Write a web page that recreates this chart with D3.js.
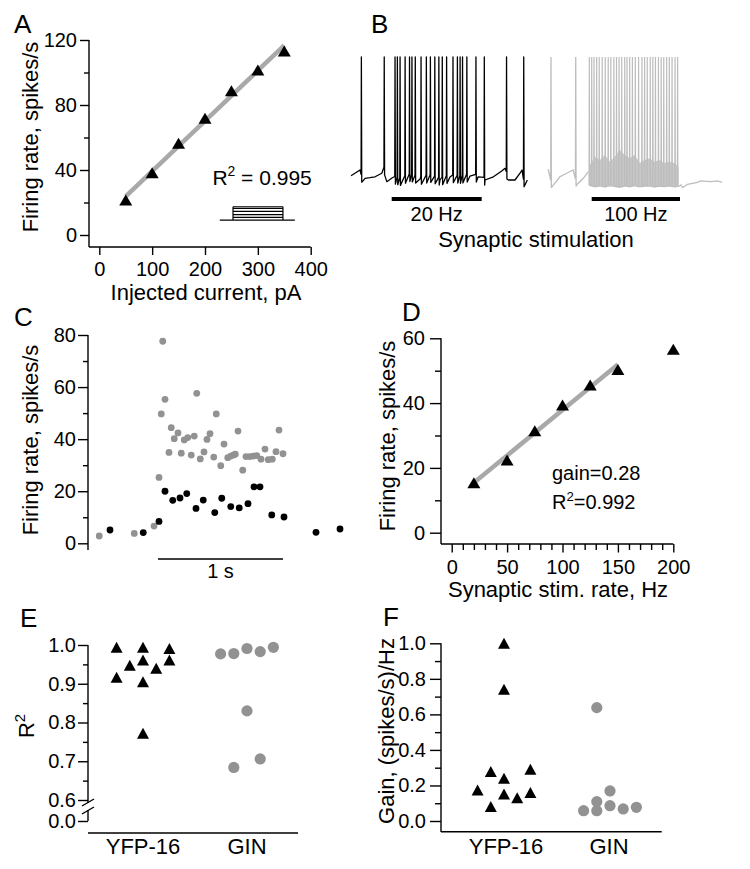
<!DOCTYPE html>
<html><head><meta charset="utf-8">
<script src="https://cdn.jsdelivr.net/npm/d3@7"></script>
<style>body{margin:0;background:#fff} svg{display:block} text{font-family:"Liberation Sans",Arial,Helvetica,sans-serif}</style>
</head><body><svg id="fig" width="750" height="869"></svg>
<script>
// ---------- DATA ----------
// Panel A: firing rate vs injected current
const aCurrent = [50, 100, 150, 200, 250, 300, 350];
const aRate = [21.5, 38.3, 56.4, 71.8, 88.8, 101.5, 113.2];
const aTicksX = [0, 100, 200, 300, 400];
const aTicksY = [0, 40, 80, 120];
const aMinorY = [20, 60, 100];
const aStepLevels = [9.2, 10.9, 12.6, 14.5, 16.4, 17.4]; // current-step icon (in spikes/s units of the plot)

// Panel B: membrane traces (time in ms from stimulus onset, Vm in mV)
const bBlackSpikes = [-337, -83, 37, 63, 93, 149, 198, 225, 262, 326, 385, 430, 479, 524, 562, 610, 681, 730, 760, 787, 835, 936, 1029, 1276, 1467];
const bBlackVmT = [-452, -352, -326, -296, -241, -185, -110, -84, -54, 3, 93, 204, 315, 426, 537, 648, 759, 870, 959, 1037, 1130, 1223, 1259, 1296, 1370, 1426, 1448, 1470, 1507];
const bBlackVm = [-57.2, -53.5, -61.1, -58.9, -58.5, -57.9, -55.6, -52.9, -61.1, -58.7, -60, -57.4, -59.4, -58, -60, -58, -58.7, -57.4, -58, -60, -57.9, -54.2, -52.4, -60, -60, -55.6, -53.5, -62.1, -60];
const bGraySpikes = [-461, -181, -27, 0, 26, 56, 85, 119, 153, 187, 217, 251, 281, 310, 340, 374, 400, 430, 461, 494, 531, 569, 599, 629, 663, 692, 722, 756, 787, 816, 849, 879, 910, 944, 973];
const bGrayPreT = [-493, -451, -360, -284, -210, -171, -95, -38];
const bGrayPreVm = [-52.9, -64.4, -57.9, -55.6, -53.5, -63.2, -58.9, -54.6];
const bGrayBandT = [-19, 37, 93, 149, 206, 262, 319, 374, 430, 487, 543, 599, 655, 711, 768, 824, 880, 936, 984];
const bGrayBandTop = [-50.3, -44.9, -47, -43.8, -48.1, -44.9, -40.5, -43.8, -45.9, -43.8, -49, -47, -45.9, -48.1, -47, -49, -48.1, -49, -51.4];
const bGrayBandBottom = [-63.5, -64.5, -63.8, -64.6, -63.6, -64.2, -64.8, -63.9, -64.4, -63.7, -64.5, -64.1, -63.8, -64.6, -64.0, -64.3, -63.9, -64.5, -64.2];
const bGrayPostT = [1011, 1029, 1085, 1198, 1236, 1348, 1422, 1478];
const bGrayPostVm = [-63.2, -65, -62.8, -61.5, -60.6, -61.1, -60.6, -61.5];
const bSpikePeak = 20;
const bStimLabels = ["20 Hz", "100 Hz"];

// Panel C: instantaneous firing rate (time ms from stim onset)
const cGrayT = [-470, -190, -32, 8, 26, 38, 56, 88, 106, 130, 160, 186, 210, 238, 266, 290, 310, 338, 368, 392, 416, 446, 466, 502, 528, 558, 582, 602, 618, 640, 678, 704, 734, 762, 790, 824, 856, 882, 914, 944, 968, 1000];
const cGrayRate = [2.8, 3.8, 6.6, 25.3, 49.7, 77.6, 55.3, 34.9, 44.4, 40.2, 42.4, 34.6, 39.7, 40.6, 33.9, 41.2, 57.6, 32.4, 35.1, 39.9, 42.1, 33.1, 49.7, 29.8, 38.1, 32.9, 33.5, 33.9, 34.2, 43.1, 28.1, 33.3, 33.3, 33.5, 33.7, 32.3, 36.2, 32.1, 32.3, 35.2, 43.5, 34.4];
const cBlackT = [-384, -118, 8, 56, 118, 176, 230, 304, 362, 454, 510, 582, 650, 720, 768, 816, 910, 1008, 1264, 1456];
const cBlackRate = [5.1, 4.1, 8.4, 20, 16.5, 17.4, 19.1, 13.4, 16.6, 11.8, 17.3, 14.1, 13.6, 15.2, 21.7, 21.7, 10.9, 10.1, 4.2, 5.5];
const cTicksY = [0, 20, 40, 60, 80];
const cMinorY = [10, 30, 50, 70];

// Panel D: firing rate vs synaptic stim rate
const dStim = [20, 50, 75, 100, 125, 150, 200];
const dRate = [15.4, 22.4, 31.5, 39.4, 45.6, 50.4, 56.6];
const dFitCount = 6;
const dTicksX = [0, 50, 100, 150, 200];
const dTicksY = [0, 20, 40, 60];
const dMinorY = [10, 30, 50];

// Panel E: R^2 per cell
const groups = ["YFP-16", "GIN"];
const eYfpR2 = [0.994, 0.948, 0.917, 0.994, 0.961, 0.905, 0.772, 0.94, 0.991, 0.961];
const eYfpSlot = [-2, -1, -2, 0, 0, 0, 0, 1, 2, 2];
const eGinR2 = [0.977, 0.978, 0.991, 0.983, 0.994, 0.83, 0.684, 0.706];
const eGinSlot = [-2, -1, 0, 1, 2, 0, -1, 1];
const eTicksY = [0.6, 0.7, 0.8, 0.9, 1.0];
const eMinorY = [0.65, 0.75, 0.85, 0.95];

// Panel F: gain per cell
const fYfpGain = [1.0, 0.741, 0.278, 0.24, 0.291, 0.174, 0.152, 0.131, 0.161, 0.081];
const fYfpSlot = [0, 0, -1, 0, 2, -2, 0, 1, 2, -1];
const fGinGain = [0.638, 0.169, 0.109, 0.086, 0.058, 0.058, 0.068, 0.077];
const fGinSlot = [-1, 0, -1, 0, -2, -1, 1, 2];
const fTicksY = [0, 0.2, 0.4, 0.6, 0.8, 1.0];
const fMinorY = [0.1, 0.3, 0.5, 0.7, 0.9];

// ---------- STYLE ----------
const FONT = '"Liberation Sans", Arial, Helvetica, sans-serif';
const TICK_FS = 20, TITLE_FS = 22, CAT_FS = 22, LETTER_FS = 26;
const GRAY_MARK = '#929292', FIT_GRAY = '#a9a9a9', TRACE_GRAY = '#bdbdbd';
const AX_W = 1.4;

const svg = d3.select('#fig');

function triPath(cx, cy, w, h) {
  const p = d3.path();
  p.moveTo(cx, cy - h / 2); p.lineTo(cx + w / 2, cy + h / 2); p.lineTo(cx - w / 2, cy + h / 2); p.closePath();
  return p.toString();
}
function styleAxis(a) {
  a.select('.domain').remove();
  a.attr('font-size', TICK_FS).attr('font-family', FONT);
  a.selectAll('line').attr('stroke-width', AX_W);
}
function leftAxis(scale, x, major, minor, fmt, o) {
  const g = svg.append('g');
  g.append('g').attr('transform', `translate(${x},0)`)
    .call(d3.axisLeft(scale).tickValues(major).tickSize(o.size).tickPadding(o.pad).tickFormat(fmt))
    .call(styleAxis);
  if (minor) g.append('g').attr('transform', `translate(${x},0)`)
    .call(d3.axisLeft(scale).tickValues(minor).tickSize(o.minor).tickFormat(() => ''))
    .call(styleAxis);
  g.append('line').attr('x1', x).attr('x2', x).attr('y1', o.y1).attr('y2', o.y2)
    .attr('stroke', '#000').attr('stroke-width', AX_W);
}
function bottomAxis(scale, y, major, minor, fmt, o) {
  const g = svg.append('g');
  if (major) g.append('g').attr('transform', `translate(0,${y})`)
    .call(d3.axisBottom(scale).tickValues(major).tickSize(o.size).tickPadding(o.pad).tickFormat(fmt))
    .call(styleAxis);
  if (minor) g.append('g').attr('transform', `translate(0,${y})`)
    .call(d3.axisBottom(scale).tickValues(minor).tickSize(o.minor).tickFormat(() => ''))
    .call(styleAxis);
  g.append('line').attr('x1', o.x1).attr('x2', o.x2).attr('y1', y).attr('y2', y)
    .attr('stroke', '#000').attr('stroke-width', AX_W);
}
function text(x, y, s, size, anchor, rot) {
  const t = svg.append('text').attr('font-size', size).attr('font-family', FONT)
    .attr('text-anchor', anchor || 'start').attr('fill', '#000');
  if (rot) t.attr('transform', `translate(${x},${y}) rotate(-90)`);
  else t.attr('x', x).attr('y', y);
  t.text(s);
  return t;
}
function r2Text(x, y, size, rest) {
  const t = svg.append('text').attr('x', x).attr('y', y).attr('font-size', size).attr('font-family', FONT);
  t.append('tspan').text('R');
  t.append('tspan').attr('font-size', size * 0.66).attr('dy', -size * 0.4).text('2');
  t.append('tspan').attr('dy', size * 0.4).text(rest);
  return t;
}
function linFit(xs, ys) {
  const mx = d3.mean(xs), my = d3.mean(ys);
  const sxy = d3.sum(xs, (x, i) => (x - mx) * (ys[i] - my));
  const sxx = d3.sum(xs, x => (x - mx) ** 2);
  const b = sxy / sxx; return { b, a: my - b * mx };
}

// ---------- PANEL LETTERS ----------
[["A", 14, 33], ["B", 371, 33], ["C", 14, 326], ["D", 402, 321], ["E", 20, 627], ["F", 383, 626]]
  .forEach(([l, x, y]) => text(x, y, l, LETTER_FS));

// ---------- PANEL A ----------
{
  const x = d3.scaleLinear().domain([0, 400]).range([99.3, 310.7]);
  const y = d3.scaleLinear().domain([0, 120]).range([235, 40]);
  leftAxis(y, 89, aTicksY, aMinorY, d3.format('d'), { size: 9, pad: 3, minor: 5, y1: y(120), y2: 247 });
  bottomAxis(x, 247, aTicksX, null, d3.format('d'), { size: 8, pad: 7, x1: 89, x2: x(400) });
  const fit = linFit(aCurrent, aRate);
  const xr = d3.extent(aCurrent);
  svg.append('line').attr('x1', x(xr[0])).attr('x2', x(xr[1]))
    .attr('y1', y(fit.a + fit.b * xr[0])).attr('y2', y(fit.a + fit.b * xr[1]))
    .attr('stroke', FIT_GRAY).attr('stroke-width', 4.5);
  svg.append('g').selectAll('path').data(aCurrent).join('path')
    .attr('d', (d, i) => triPath(x(d), y(aRate[i]), 13, 11)).attr('fill', '#000');
  r2Text(x(214), y(31), 21, ' = 0.995');
  // current-step icon
  const ic = svg.append('g').attr('stroke', '#000').attr('stroke-width', 1.2).attr('fill', 'none');
  ic.append('line').attr('x1', x(228)).attr('x2', x(370)).attr('y1', y(aStepLevels[0])).attr('y2', y(aStepLevels[0]));
  aStepLevels.slice(1).forEach(v => ic.append('line').attr('x1', x(253)).attr('x2', x(347.5)).attr('y1', y(v)).attr('y2', y(v)));
  [253, 347.5].forEach(v => ic.append('line').attr('x1', x(v)).attr('x2', x(v)).attr('y1', y(aStepLevels[0])).attr('y2', y(d3.max(aStepLevels))));
  text(38, 137, 'Firing rate, spikes/s', TITLE_FS, 'middle', true);
  text(206, 300, 'Injected current, pA', TITLE_FS, 'middle');
}

// ---------- PANEL B ----------
{
  const v = d3.scaleLinear().domain([-60, 20]).range([180, 57]);
  const xb1 = d3.scaleLinear().domain([0, 1000]).range([391.7, 481.7]);
  const xb2 = d3.scaleLinear().domain([0, 1000]).range([591.7, 680]);
  const interp = (ts, vs) => (t) => {
    const i = d3.bisectLeft(ts, t);
    if (i <= 0) return vs[0]; if (i >= ts.length) return vs[vs.length - 1];
    const f = (t - ts[i - 1]) / (ts[i] - ts[i - 1]); return vs[i - 1] + f * (vs[i] - vs[i - 1]);
  };
  function tracePts(ts, vs, spikes) {
    const base = interp(ts, vs);
    const pts = ts.map((t, i) => [t, vs[i]]).filter(p => !spikes.some(s => Math.abs(p[0] - s) < 8));
    spikes.forEach(s => { pts.push([s - 3, base(s) + 1.5], [s, bSpikePeak], [s + 4, base(s) - 3.5]); });
    return pts.sort((a, b) => a[0] - b[0]);
  }
  // black trace
  const lineB1 = d3.line().x(d => xb1(d[0])).y(d => v(d[1]));
  svg.append('path').attr('d', lineB1(tracePts(bBlackVmT, bBlackVm, bBlackSpikes)))
    .attr('fill', 'none').attr('stroke', '#000').attr('stroke-width', 1.3).attr('stroke-linejoin', 'round');
  // gray trace
  const lineB2 = d3.line().x(d => xb2(d[0])).y(d => v(d[1]));
  const preSpikes = bGraySpikes.filter(s => s < bGrayPreT[bGrayPreT.length - 1]);
  const inSpikes = bGraySpikes.filter(s => s >= bGrayPreT[bGrayPreT.length - 1]);
  svg.append('path').attr('d', lineB2(tracePts(bGrayPreT, bGrayPreVm, preSpikes)))
    .attr('fill', 'none').attr('stroke', TRACE_GRAY).attr('stroke-width', 1.3);
  const band = bGrayBandT.map((t, i) => [t, bGrayBandTop[i], bGrayBandBottom[i]]);
  svg.append('path').attr('d', d3.area().x(d => xb2(d[0])).y0(d => v(d[2])).y1(d => v(d[1]))(band))
    .attr('fill', '#c9c9c9');
  const bot = interp(bGrayBandT, bGrayBandBottom);
  const inPts = [];
  inSpikes.forEach(s => { inPts.push([s - 3, bot(s)], [s, bSpikePeak], [s + 3, bot(s)]); });
  svg.append('path').attr('d', lineB2(inPts)).attr('fill', 'none').attr('stroke', TRACE_GRAY).attr('stroke-width', 1.2);
  const post = [[bGrayBandT[bGrayBandT.length - 1], bGrayBandBottom[bGrayBandBottom.length - 1]]]
    .concat(bGrayPostT.map((t, i) => [t, bGrayPostVm[i]]));
  svg.append('path').attr('d', lineB2(post)).attr('fill', 'none').attr('stroke', TRACE_GRAY).attr('stroke-width', 1.3);
  // stim bars
  [[xb1, bStimLabels[0]], [xb2, bStimLabels[1]]].forEach(([sc, lab]) => {
    svg.append('line').attr('x1', sc(0)).attr('x2', sc(1000)).attr('y1', 199).attr('y2', 199)
      .attr('stroke', '#000').attr('stroke-width', 4);
    text((sc(0) + sc(1000)) / 2, 221, lab, 20, 'middle');
  });
  text(536, 247, 'Synaptic stimulation', TITLE_FS, 'middle');
}

// ---------- PANEL C ----------
{
  const x = d3.scaleLinear().domain([0, 1000]).range([158, 283]);
  const y = d3.scaleLinear().domain([0, 80]).range([543.3, 335]);
  leftAxis(y, 88, cTicksY, cMinorY, d3.format('d'), { size: 10, pad: 2, minor: 5, y1: y(80), y2: 550 });
  svg.append('g').selectAll('circle').data(cGrayT).join('circle')
    .attr('cx', d => x(d)).attr('cy', (d, i) => y(cGrayRate[i])).attr('r', 3.4).attr('fill', GRAY_MARK);
  svg.append('g').selectAll('circle').data(cBlackT).join('circle')
    .attr('cx', d => x(d)).attr('cy', (d, i) => y(cBlackRate[i])).attr('r', 3.4).attr('fill', '#000');
  svg.append('line').attr('x1', x(0)).attr('x2', x(1000)).attr('y1', 559).attr('y2', 559)
    .attr('stroke', '#000').attr('stroke-width', 1.3);
  text(x(500), 578, '1 s', 20, 'middle');
  text(38, 440, 'Firing rate, spikes/s', TITLE_FS, 'middle', true);
}

// ---------- PANEL D ----------
{
  const x = d3.scaleLinear().domain([0, 200]).range([451.7, 673.3]);
  const y = d3.scaleLinear().domain([0, 60]).range([532.7, 338.3]);
  leftAxis(y, 441, dTicksY, dMinorY, d3.format('d'), { size: 11, pad: 5, minor: 6, y1: y(60), y2: 544 });
  const minorX = d3.range(10, 200, 10).filter(v => v % 50 !== 0);
  bottomAxis(x, 544, dTicksX, minorX, d3.format('d'), { size: 8.5, pad: 7, minor: 6, x1: 441, x2: x(200) });
  const fx = dStim.slice(0, dFitCount), fy = dRate.slice(0, dFitCount);
  const fit = linFit(fx, fy);
  svg.append('line').attr('x1', x(fx[0])).attr('x2', x(fx[fx.length - 1]))
    .attr('y1', y(fit.a + fit.b * fx[0])).attr('y2', y(fit.a + fit.b * fx[fx.length - 1]))
    .attr('stroke', FIT_GRAY).attr('stroke-width', 4.5);
  svg.append('g').selectAll('path').data(dStim).join('path')
    .attr('d', (d, i) => triPath(x(d), y(dRate[i]), 13, 11)).attr('fill', '#000');
  text(x(90.5), y(16.3), 'gain=' + d3.format('.2f')(fit.b), 20);
  r2Text(x(90.5), y(7.3), 20, '=0.992');
  text(395, 436, 'Firing rate, spikes/s', TITLE_FS, 'middle', true);
  text(558, 597, 'Synaptic stim. rate, Hz', TITLE_FS, 'middle');
}

// ---------- PANEL E ----------
{
  const cat = d3.scalePoint().domain(groups).range([143, 247]);
  const slot = d3.scaleLinear().domain([-1, 1]).range([-13.2, 13.2]);
  const y = d3.scaleLinear().domain([0.6, 1.0]).range([800, 645]);
  const y0 = d3.scaleLinear().domain([0, 0.1]).range([821, 782.25]);
  leftAxis(y, 88, eTicksY, eMinorY, d3.format('.1f'), { size: 10, pad: 2, minor: 5, y1: y(1.0), y2: 803 });
  leftAxis(y0, 88, [0], null, d3.format('.1f'), { size: 10, pad: 2, y1: 810, y2: y0(0) });
  svg.append('g').attr('stroke', '#000').attr('stroke-width', AX_W).selectAll('line').data([0, 8]).join('line')
    .attr('x1', 82).attr('x2', 94).attr('y1', d => 806 + d).attr('y2', d => 799 + d);
  svg.append('line').attr('x1', 88).attr('x2', 298).attr('y1', 833).attr('y2', 833)
    .attr('stroke', '#000').attr('stroke-width', AX_W);
  svg.append('g').selectAll('path').data(eYfpR2).join('path')
    .attr('d', (d, i) => triPath(cat(groups[0]) + slot(eYfpSlot[i]), y(d), 12, 11)).attr('fill', '#000');
  svg.append('g').selectAll('circle').data(eGinR2).join('circle')
    .attr('cx', (d, i) => cat(groups[1]) + slot(eGinSlot[i])).attr('cy', d => y(d)).attr('r', 5.6).attr('fill', GRAY_MARK);
  groups.forEach(gname => text(cat(gname), 854, gname, CAT_FS, 'middle'));
  const t = svg.append('text').attr('transform', 'translate(34,726) rotate(-90)').attr('text-anchor', 'middle')
    .attr('font-size', TITLE_FS).attr('font-family', FONT);
  t.append('tspan').text('R');
  t.append('tspan').attr('font-size', 15).attr('dy', -9).text('2');
}

// ---------- PANEL F ----------
{
  const cat = d3.scalePoint().domain(groups).range([506, 609]);
  const slot = d3.scaleLinear().domain([-1, 1]).range([-13.2, 13.2]);
  const y = d3.scaleLinear().domain([0, 1]).range([821, 643.3]);
  leftAxis(y, 441, fTicksY, fMinorY, d3.format('.1f'), { size: 11, pad: 4, minor: 6, y1: y(1), y2: 832 });
  svg.append('line').attr('x1', 441).attr('x2', 661.7).attr('y1', 831.7).attr('y2', 831.7)
    .attr('stroke', '#000').attr('stroke-width', AX_W);
  svg.append('g').selectAll('path').data(fYfpGain).join('path')
    .attr('d', (d, i) => triPath(cat(groups[0]) - 2 + slot(fYfpSlot[i]), y(d), 12, 11)).attr('fill', '#000');
  svg.append('g').selectAll('circle').data(fGinGain).join('circle')
    .attr('cx', (d, i) => cat(groups[1]) + 1 + slot(fGinSlot[i])).attr('cy', d => y(d)).attr('r', 5.6).attr('fill', GRAY_MARK);
  groups.forEach(gname => text(cat(gname), 854, gname, CAT_FS, 'middle'));
  text(394, 731, 'Gain, (spikes/s)/Hz', TITLE_FS, 'middle', true);
}
</script></body></html>
